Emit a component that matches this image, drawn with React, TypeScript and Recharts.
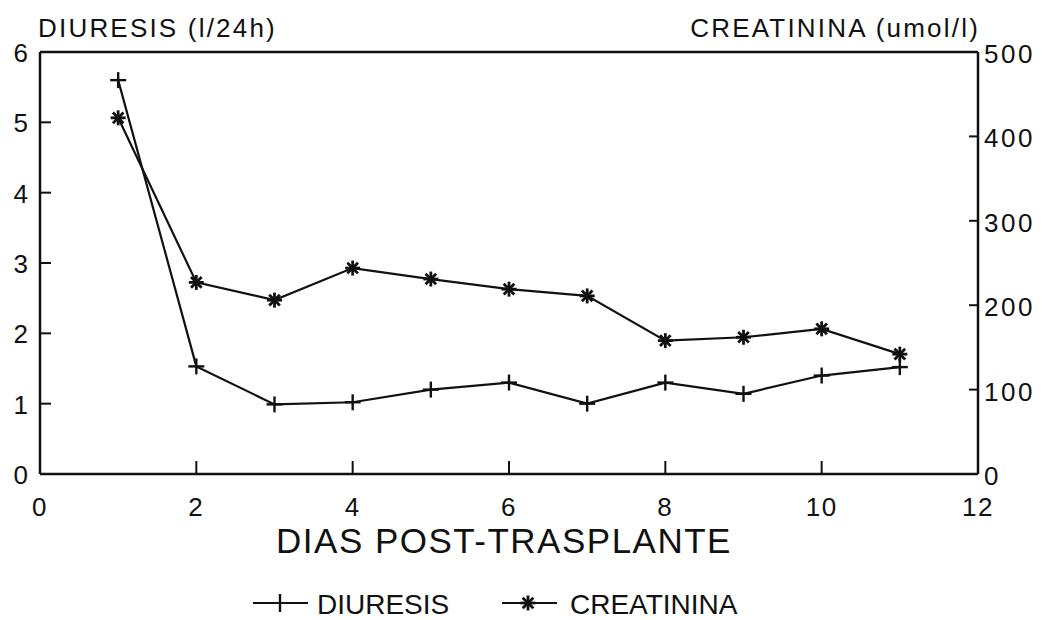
import { LineChart, Line, XAxis, YAxis, ReferenceLine } from 'recharts'

// days after transplant
const days = [1, 2, 3, 4, 5, 6, 7, 8, 9, 10, 11]
// diuresis, l/24h (left axis)
const diuresis = [5.6, 1.53, 0.99, 1.02, 1.2, 1.3, 1.0, 1.3, 1.14, 1.4, 1.52]
// creatinine, umol/l (right axis)
const creatinina = [422, 227, 206, 244, 231, 219, 211, 158, 162, 172, 142]

const xTicks = [0, 2, 4, 6, 8, 10, 12]
const leftTicks = [0, 1, 2, 3, 4, 5, 6]
const rightTicks = [0, 100, 200, 300, 400, 500]

const chartData = days.map((d, i) => ({ day: d, diuresis: diuresis[i], creatinina: creatinina[i] }))

const FONT = '"Liberation Sans", Arial, sans-serif'
const INK = '#111'

const PlusDot = (props: any) => {
  const { cx, cy } = props
  if (cx == null || cy == null) return null
  return (
    <g stroke={INK} strokeWidth={2.4}>
      <line x1={cx - 8} y1={cy} x2={cx + 8} y2={cy} />
      <line x1={cx} y1={cy - 8} x2={cx} y2={cy + 8} />
    </g>
  )
}

const StarDot = (props: any) => {
  const { cx, cy } = props
  if (cx == null || cy == null) return null
  const r = 7.5
  const arms = [0, 45, 90, 135].map(a => {
    const rad = (a * Math.PI) / 180
    return (
      <line key={a} x1={cx - r * Math.cos(rad)} y1={cy - r * Math.sin(rad)} x2={cx + r * Math.cos(rad)} y2={cy + r * Math.sin(rad)} />
    )
  })
  return (
    <g stroke={INK} strokeWidth={2.8}>
      {arms}
    </g>
  )
}

const LeftTick = (props: any) => {
  const { x, y, payload } = props
  const edge = payload.value === 0 || payload.value === 6
  return (
    <g>
      {!edge && <line x1={x} y1={y} x2={x + 11} y2={y} stroke={INK} strokeWidth={2} />}
      <text x={x - 12} y={y + 1} textAnchor="end" dominantBaseline="central" fontSize={26} fontFamily={FONT} fill={INK}>
        {payload.value}
      </text>
    </g>
  )
}

const RightTick = (props: any) => {
  const { x, y, payload } = props
  const edge = payload.value === 0 || payload.value === 500
  return (
    <g>
      {!edge && <line x1={x - 9} y1={y} x2={x} y2={y} stroke={INK} strokeWidth={2} />}
      <text x={x + 6} y={y + 2} textAnchor="start" dominantBaseline="central" fontSize={26} fontFamily={FONT} fill={INK} letterSpacing={2.5}>
        {payload.value}
      </text>
    </g>
  )
}

const BottomTick = (props: any) => {
  const { x, y, payload } = props
  const edge = payload.value === 0 || payload.value === 12
  return (
    <g>
      {!edge && <line x1={x} y1={y - 13} x2={x} y2={y} stroke={INK} strokeWidth={2} />}
      <text x={x} y={y + 33} textAnchor="middle" dominantBaseline="central" fontSize={26} fontFamily={FONT} fill={INK} letterSpacing={1.5}>
        {payload.value}
      </text>
    </g>
  )
}

const seriesNames = ['DIURESIS', 'CREATININA']

const LegendRow = () => (
  <g>
    <line x1={253} y1={603} x2={308} y2={603} stroke={INK} strokeWidth={2} />
    <line x1={280} y1={594} x2={280} y2={612} stroke={INK} strokeWidth={2.4} />
    <text x={317} y={604} dominantBaseline="central" fontSize={28} fontFamily={FONT} fill={INK}>
      {seriesNames[0]}
    </text>
    <line x1={502} y1={603} x2={557} y2={603} stroke={INK} strokeWidth={2} />
    <StarDot cx={528} cy={603} />
    <text x={570} y={604} dominantBaseline="central" fontSize={28} fontFamily={FONT} fill={INK}>
      {seriesNames[1]}
    </text>
  </g>
)

export default function App() {
  return (
    <div style={{ position: 'absolute', left: 0, top: 0, width: 1046, height: 620, background: '#fff' }}>
      <LineChart width={1046} height={620} data={chartData} margin={{ top: 52, right: 8, bottom: 106, left: 10 }}>
        <XAxis
          dataKey="day"
          type="number"
          domain={[0, 12]}
          ticks={xTicks}
          interval={0}
          height={40}
          tickSize={0}
          tickMargin={0}
          tickLine={false}
          axisLine={{ stroke: INK, strokeWidth: 2.5 }}
          tick={<BottomTick />}
        />
        <YAxis
          yAxisId="left"
          orientation="left"
          domain={[0, 6]}
          ticks={leftTicks}
          interval={0}
          width={30}
          tickSize={0}
          tickMargin={0}
          tickLine={false}
          axisLine={{ stroke: INK, strokeWidth: 2.5 }}
          tick={<LeftTick />}
        />
        <YAxis
          yAxisId="right"
          orientation="right"
          domain={[0, 500]}
          ticks={rightTicks}
          interval={0}
          width={60}
          tickSize={0}
          tickMargin={0}
          tickLine={false}
          axisLine={{ stroke: INK, strokeWidth: 2.5 }}
          tick={<RightTick />}
        />
        <ReferenceLine yAxisId="left" y={6} stroke={INK} strokeWidth={2.5} />
        <Line
          yAxisId="left"
          dataKey="diuresis"
          name="DIURESIS"
          type="linear"
          stroke={INK}
          strokeWidth={2.2}
          dot={<PlusDot />}
          activeDot={false}
          isAnimationActive={false}
        />
        <Line
          yAxisId="right"
          dataKey="creatinina"
          name="CREATININA"
          type="linear"
          stroke={INK}
          strokeWidth={2.2}
          dot={<StarDot />}
          activeDot={false}
          isAnimationActive={false}
        />
        <text x={38} y={37} fontSize={26} fontFamily={FONT} fill={INK} letterSpacing={2.2}>
          DIURESIS (l/24h)
        </text>
        <text x={980} y={37} textAnchor="end" fontSize={26} fontFamily={FONT} fill={INK} letterSpacing={2.2}>
          CREATININA (umol/l)
        </text>
        <text x={504} y={553} textAnchor="middle" fontSize={35} fontFamily={FONT} fill={INK} letterSpacing={1.5}>
          DIAS POST-TRASPLANTE
        </text>
        <LegendRow />
      </LineChart>
    </div>
  )
}
